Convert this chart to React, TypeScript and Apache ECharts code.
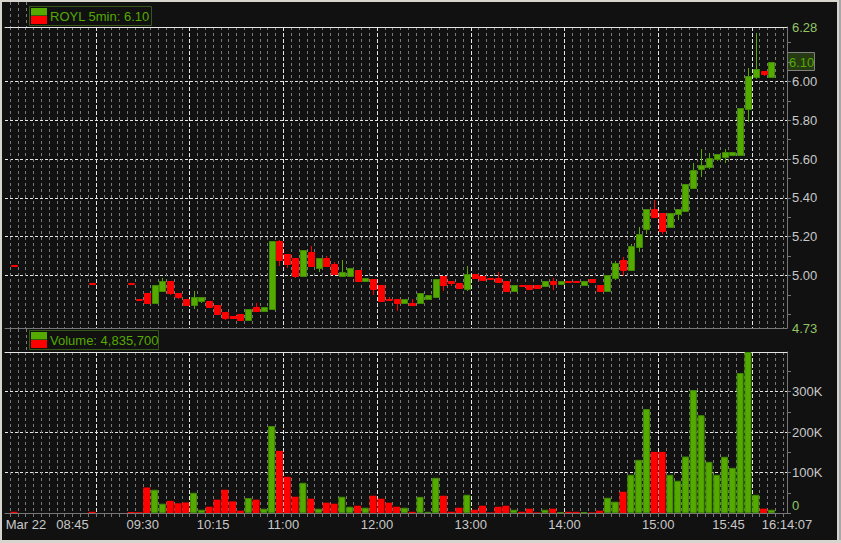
import React, { useEffect, useRef } from 'react';
import * as echarts from 'echarts';

// ---- data (5-minute bars, slot start time) ----
const times = [
  '08:05', '08:55', '09:20', '09:25', '09:30', '09:35', '09:40', '09:45', '09:50', '09:55',
  '10:00', '10:05', '10:10', '10:15', '10:20', '10:25', '10:30', '10:35', '10:40', '10:45',
  '10:50', '10:55', '11:00', '11:05', '11:10', '11:15', '11:20', '11:25', '11:30', '11:35',
  '11:40', '11:45', '11:50', '11:55', '12:00', '12:05', '12:10', '12:15', '12:20', '12:25',
  '12:30', '12:35', '12:40', '12:45', '12:50', '12:55', '13:00', '13:05', '13:10', '13:15',
  '13:20', '13:25', '13:30', '13:35', '13:40', '13:45', '13:50', '13:55', '14:00', '14:05',
  '14:10', '14:15', '14:20', '14:25', '14:30', '14:35', '14:40', '14:45', '14:50', '14:55',
  '15:00', '15:05', '15:10', '15:15', '15:20', '15:25', '15:30', '15:35', '15:40', '15:45',
  '15:50', '15:55', '16:00', '16:05', '16:10',
];
const opens = [
  5.055, 4.96, 4.96, 4.88, 4.91, 4.86, 4.92, 4.97, 4.91, 4.88,
  4.85, 4.87, 4.87, 4.85, 4.81, 4.79, 4.80, 4.77, 4.84, 4.82,
  4.83, 5.18, 5.11, 5.09, 5.00, 5.12, 5.04, 5.09, 5.06, 5.00,
  5.00, 5.03, 4.97, 4.98, 4.95, 4.88, 4.88, 4.86, 4.86, 4.86,
  4.88, 4.89, 5.00, 4.97, 4.96, 4.93, 5.01, 5.00, 4.99, 4.99,
  4.97, 4.92, 4.95, 4.95, 4.95, 4.945, 4.97, 4.955, 4.97, 4.97,
  4.95, 4.98, 4.95, 4.92, 4.985, 5.08, 5.03, 5.145, 5.24, 5.345,
  5.32, 5.25, 5.315, 5.335, 5.45, 5.55, 5.56, 5.60, 5.61, 5.62,
  5.62, 5.856, 6.02, 6.052, 6.02,
];
const closes = [
  5.05, 4.955, 4.955, 4.875, 4.86, 4.95, 4.97, 4.91, 4.89, 4.85,
  4.89, 4.89, 4.84, 4.80, 4.78, 4.78, 4.77, 4.83, 4.82, 4.84,
  5.18, 5.08, 5.06, 5.00, 5.13, 5.05, 5.09, 5.05, 5.01, 5.02,
  5.04, 4.97, 4.99, 4.93, 4.87, 4.875, 4.86, 4.88, 4.85, 4.91,
  4.90, 4.98, 4.95, 4.96, 4.935, 5.01, 4.99, 4.975, 4.98, 4.965,
  4.92, 4.95, 4.945, 4.93, 4.935, 4.97, 4.955, 4.97, 4.965, 4.965,
  4.97, 4.965, 4.92, 5.005, 5.065, 5.03, 5.15, 5.215, 5.345, 5.30,
  5.23, 5.32, 5.345, 5.47, 5.545, 5.567, 5.605, 5.627, 5.637, 5.637,
  5.863, 6.027, 6.063, 6.037, 6.10,
];
const lows = [
  5.05, 4.955, 4.955, 4.875, 4.86, 4.86, 4.92, 4.90, 4.88, 4.85,
  4.83, 4.86, 4.84, 4.80, 4.77, 4.775, 4.77, 4.77, 4.82, 4.82,
  4.83, 5.05, 5.04, 4.99, 5.00, 5.05, 5.02, 5.05, 5.01, 5.00,
  5.00, 4.965, 4.965, 4.90, 4.87, 4.875, 4.82, 4.855, 4.85, 4.86,
  4.88, 4.89, 4.92, 4.945, 4.935, 4.92, 4.99, 4.975, 4.98, 4.965,
  4.92, 4.92, 4.945, 4.93, 4.935, 4.945, 4.925, 4.95, 4.965, 4.965,
  4.95, 4.965, 4.92, 4.92, 4.975, 5.00, 5.03, 5.12, 5.215, 5.30,
  5.215, 5.245, 5.285, 5.335, 5.45, 5.508, 5.55, 5.59, 5.58, 5.615,
  5.62, 5.793, 6.01, 6.027, 6.02,
];
const highs = [
  5.055, 4.96, 4.96, 4.88, 4.91, 4.95, 4.99, 4.97, 4.91, 4.88,
  4.92, 4.89, 4.87, 4.85, 4.81, 4.79, 4.80, 4.83, 4.86, 4.84,
  5.18, 5.185, 5.11, 5.09, 5.13, 5.15, 5.09, 5.10, 5.07, 5.08,
  5.04, 5.03, 4.99, 4.98, 4.95, 4.89, 4.88, 4.88, 4.88, 4.91,
  4.90, 4.98, 5.00, 4.97, 4.96, 5.05, 5.01, 5.00, 4.99, 5.02,
  4.97, 4.95, 4.95, 4.95, 4.95, 4.97, 4.985, 4.97, 4.97, 4.97,
  4.97, 4.98, 4.95, 5.005, 5.075, 5.095, 5.16, 5.25, 5.345, 5.39,
  5.32, 5.32, 5.345, 5.47, 5.58, 5.653, 5.63, 5.627, 5.65, 5.637,
  5.863, 6.067, 6.249, 6.052, 6.10,
];
const volumes = [
  3000, 3000, 2500, 2000, 63000, 57500, 23000, 30000, 24000, 26000,
  50000, 8000, 15500, 33000, 57500, 28700, 5700, 37000, 33000, 10600,
  215000, 153600, 89500, 40200, 74700, 35300, 10600, 25400, 23000, 40200,
  15500, 18000, 13000, 42700, 35300, 25400, 15500, 13000, 3000, 40000,
  3000, 87000, 42700, 3000, 13000, 45000, 8000, 18000, 1500, 15500,
  18000, 8000, 3000, 10600, 1500, 8000, 10600, 2000, 3000, 3000,
  2000, 1500, 5700, 37700, 28000, 52500, 94500, 131400, 257000, 151000,
  151000, 94500, 79700, 139600, 304000, 241700, 126500, 94500, 139000, 111700,
  346000, 398000, 45000, 10600, 8000,
];

const symbol = 'ROYL';
const barPeriod = '5min';
const totalVolumeText = '4,835,700';
const dateLabel = 'Mar 22';
const lastStampLabel = '16:14:07';
const timeTickLabels = ['08:45', '09:30', '10:15', '11:00', '12:00', '13:00', '14:00', '15:00', '15:45'];
const hourLines = ['09:00', '10:00', '11:00', '12:00', '13:00', '14:00', '15:00', '16:00'];
const priceLabels = [4.73, 5.0, 5.2, 5.4, 5.6, 5.8, 6.0, 6.28];
const priceGridLevels = [5.0, 5.2, 5.4, 5.6, 5.8, 6.0];
const priceMinorTicks = [4.8, 4.9, 5.0, 5.1, 5.2, 5.3, 5.4, 5.5, 5.6, 5.7, 5.8, 5.9, 6.0, 6.1, 6.2];
const volumeLabels = [0, 100000, 200000, 300000];
const volumeGridLevels = [100000, 200000, 300000];
const volumeTicks = [0, 50000, 100000, 150000, 200000, 250000, 300000, 350000];
const PRICE_MIN = 4.73;
const PRICE_MAX = 6.28;
const VOL_MAX = 398000;

// ---- layout / style ----
const X_MIN = 481.75;
const X_MAX = 982.5;
const GREEN = '#55aa00';
const GREEN_EDGE = '#3f8a00';
const RED = '#ff0000';
const PALE_GREEN = '#93c465';
const LABEL = '#c8c8c8';
const GRAY_LINE = '#777777';
const MINOR = '#7a7a7a';
const MAJOR = '#e6e6e6';
const FONT = 'Liberation Sans';
const CANDLE_W = 6;

const toMin = (t: string) => {
  const [h, m] = t.split(':').map(Number);
  return h * 60 + m;
};
const fmtTime = (v: number) => {
  const h = Math.floor(v / 60);
  const m = Math.round(v - h * 60);
  return `${String(h).padStart(2, '0')}:${String(m).padStart(2, '0')}`;
};

const minorTimeTicks: number[] = [];
for (let t = 485; t < X_MAX; t += 5) minorTimeTicks.push(t);
const hourTicks = hourLines.map(toMin);
const labelTicks = [X_MIN, ...timeTickLabels.map(toMin), X_MAX];

export default function App() {
  const ref = useRef<HTMLDivElement>(null);

  useEffect(() => {
    document.body.style.margin = '0';
    if (!ref.current) return;
    const chart = echarts.init(ref.current, undefined, { renderer: 'svg' });

    const candleData = times.map((t, i) => [toMin(t) + 2.5, opens[i], closes[i], lows[i], highs[i]]);
    const volData = times.map((t, i) => {
      const up = closes[i] >= opens[i];
      return {
        value: [toMin(t) + 2.5, volumes[i]],
        itemStyle: { color: up ? GREEN : RED, borderColor: up ? GREEN_EDGE : RED, borderWidth: up ? 1 : 0 },
      };
    });
    const lastClose = closes[closes.length - 1];

    const renderCandle = (params: any, api: any) => {
      const x = api.value(0);
      const o = api.value(1);
      const c = api.value(2);
      const l = api.value(3);
      const h = api.value(4);
      const pO = api.coord([x, o]);
      const pC = api.coord([x, c]);
      const pL = api.coord([x, l]);
      const pH = api.coord([x, h]);
      const up = c >= o;
      const left = Math.round(pO[0] - CANDLE_W / 2) + 0.5;
      const cx = left + CANDLE_W / 2;
      const top = Math.round(Math.min(pO[1], pC[1])) + 0.5;
      const bot = Math.round(Math.max(pO[1], pC[1])) + 0.5;
      const col = up ? GREEN : RED;
      return {
        type: 'group',
        children: [
          {
            type: 'line',
            shape: { x1: cx, y1: Math.round(pH[1]), x2: cx, y2: Math.round(pL[1]) },
            style: { stroke: col, lineWidth: 1 },
          },
          {
            type: 'rect',
            shape: { x: left, y: top, width: CANDLE_W, height: Math.max(bot - top, 1) },
            style: { fill: col, stroke: up ? GREEN_EDGE : RED, lineWidth: 1 },
          },
        ],
      };
    };

    const baseX = {
      type: 'value',
      min: X_MIN,
      max: X_MAX,
      axisLabel: { show: false },
      axisTick: { show: false },
    };
    const minorSplit = { show: true, lineStyle: { color: MINOR, width: 1, type: [3, 3] } };
    const majorSplit = { show: true, lineStyle: { color: MAJOR, width: 1, type: [4, 2] } };

    const labelFont = { fontFamily: FONT, fontSize: 13 };

    const legend = (top: number, width: number, text: string) => ({
      type: 'group', left: 29, top, z: 100,
      children: [
        { type: 'rect', shape: { x: 0.5, y: 0.5, width, height: 19 }, style: { fill: '#111111', stroke: '#35581a', lineWidth: 1 } },
        { type: 'rect', shape: { x: 2, y: 2, width: 16, height: 7.5 }, style: { fill: GREEN } },
        { type: 'rect', shape: { x: 2, y: 10, width: 16, height: 8 }, style: { fill: RED } },
        {
          type: 'text', x: 21, y: 10,
          style: { text, fill: GREEN, font: `13px "${FONT}"`, textVerticalAlign: 'middle', verticalAlign: 'middle' },
        },
      ],
    });

    const option: any = {
      animation: false,
      backgroundColor: '#111111',
      grid: [
        { left: 5, top: 27, width: 782, height: 301, containLabel: false, outerBoundsMode: 'none' },
        { left: 5, top: 352, width: 782, height: 161, containLabel: false, outerBoundsMode: 'none' },
      ],
      xAxis: [
        {
          ...baseX, gridIndex: 0, position: 'bottom',
          axisLine: { show: true, onZero: false, lineStyle: { color: GRAY_LINE } },
          axisTick: { show: false, customValues: minorTimeTicks },
          splitLine: minorSplit,
        },
        {
          ...baseX, gridIndex: 0, position: 'top',
          axisLine: { show: true, onZero: false, lineStyle: { color: MAJOR } },
          axisTick: { show: false, customValues: hourTicks },
          splitLine: majorSplit,
        },
        {
          ...baseX, gridIndex: 1, position: 'bottom',
          axisLine: { show: true, onZero: false, lineStyle: { color: GRAY_LINE } },
          axisTick: { show: true, customValues: minorTimeTicks, length: 4, lineStyle: { color: GRAY_LINE } },
          axisLabel: {
            show: true,
            customValues: labelTicks,
            margin: 5,
            color: LABEL,
            ...labelFont,
            formatter: (v: number) => {
              if (Math.abs(v - X_MIN) < 0.01) return `{l|${dateLabel}}`;
              if (Math.abs(v - X_MAX) < 0.01) return lastStampLabel;
              return fmtTime(v);
            },
            rich: { l: { padding: [0, 0, 0, 42], color: LABEL, ...labelFont } },
          },
          splitLine: minorSplit,
        },
        {
          ...baseX, gridIndex: 1, position: 'top',
          axisLine: { show: true, onZero: false, lineStyle: { color: MAJOR } },
          axisTick: { show: false, customValues: hourTicks },
          splitLine: majorSplit,
        },
      ],
      yAxis: [
        {
          type: 'value', gridIndex: 0, position: 'right', min: PRICE_MIN, max: PRICE_MAX,
          axisLine: { show: true, lineStyle: { color: GRAY_LINE } },
          axisTick: { show: true, customValues: priceMinorTicks, length: 4, lineStyle: { color: GRAY_LINE } },
          axisLabel: {
            show: true, customValues: priceLabels, margin: 5, color: LABEL, ...labelFont,
            formatter: (v: number) => {
              const s = v.toFixed(2);
              return Math.abs(v - PRICE_MIN) < 1e-6 || Math.abs(v - PRICE_MAX) < 1e-6 ? `{g|${s}}` : s;
            },
            rich: { g: { color: PALE_GREEN, ...labelFont } },
          },
          splitLine: { show: false },
        },
        {
          type: 'value', gridIndex: 0, position: 'right', min: PRICE_MIN, max: PRICE_MAX,
          axisLine: { show: false },
          axisTick: { show: false, customValues: priceGridLevels },
          axisLabel: { show: false },
          splitLine: { show: true, lineStyle: { color: MAJOR, width: 1, type: [3, 2] } },
        },
        {
          type: 'value', gridIndex: 1, position: 'right', min: 0, max: VOL_MAX,
          axisLine: { show: true, lineStyle: { color: GRAY_LINE } },
          axisTick: { show: true, customValues: volumeTicks, length: 4, lineStyle: { color: GRAY_LINE } },
          axisLabel: {
            show: true, customValues: volumeLabels, margin: 5, color: LABEL, ...labelFont,
            formatter: (v: number) => (v === 0 ? '{z|0}' : `${Math.round(v / 1000)}K`),
            rich: { z: { color: PALE_GREEN, padding: [0, 0, 15, 0], ...labelFont } },
          },
          splitLine: { show: false },
        },
        {
          type: 'value', gridIndex: 1, position: 'right', min: 0, max: VOL_MAX,
          axisLine: { show: false },
          axisTick: { show: false, customValues: volumeGridLevels },
          axisLabel: { show: false },
          splitLine: { show: true, lineStyle: { color: MAJOR, width: 1, type: [3, 2] } },
        },
      ],
      series: [
        {
          type: 'custom',
          xAxisIndex: 0,
          yAxisIndex: 0,
          data: candleData,
          encode: { x: 0, y: [1, 2, 3, 4] },
          renderItem: renderCandle,
          clip: true,
        },
        {
          type: 'bar',
          xAxisIndex: 2,
          yAxisIndex: 2,
          data: volData,
          barWidth: 7,
        },
      ],
      graphic: [
        legend(6, 122, `${symbol} ${barPeriod}: ${lastClose.toFixed(2)}`),
        legend(330, 129, `Volume: ${totalVolumeText}`),
        // window frame
        { type: 'rect', z: 100, shape: { x: 0, y: 0, width: 841, height: 2 }, style: { fill: '#d8d5cf' } },
        { type: 'rect', z: 100, shape: { x: 0, y: 0, width: 2, height: 543 }, style: { fill: '#d8d5cf' } },
        { type: 'rect', z: 100, shape: { x: 837, y: 0, width: 4, height: 543 }, style: { fill: '#d8d5cf' } },
        { type: 'rect', z: 100, shape: { x: 839, y: 0, width: 2, height: 543 }, style: { fill: '#a8a8a8' } },
        { type: 'rect', z: 100, shape: { x: 0, y: 540, width: 841, height: 3 }, style: { fill: '#d8d5cf' } },
      ],
    };

    chart.setOption(option);

    const extra: any[] = [];
    // grid lines continue into the panel headers left of the legend boxes
    minorTimeTicks.slice(0, 3).forEach((t) => {
      const px = Math.round(chart.convertToPixel({ xAxisIndex: 0 }, t) as number) + 0.5;
      [[2, 27], [329, 352]].forEach(([y1, y2]) => {
        extra.push({
          type: 'line', z: 50,
          shape: { x1: px, y1, x2: px, y2 },
          style: { stroke: MINOR, lineWidth: 1, lineDash: [3, 3] },
        });
      });
    });
    // last-price marker on the price axis, placed through the axis scale
    const py = chart.convertToPixel({ yAxisIndex: 0 }, lastClose) as number;
    const axisX = chart.convertToPixel({ xAxisIndex: 0 }, X_MAX) as number;
    extra.push({
      type: 'group', z: 60, x: Math.round(axisX), y: Math.round(py),
      children: [
        { type: 'rect', shape: { x: 0.5, y: -9.5, width: 27, height: 18 }, style: { fill: '#263a14', stroke: '#808080', lineWidth: 1 } },
        {
          type: 'text', x: 2, y: 0,
          style: { text: lastClose.toFixed(2), fill: GREEN, font: `13px "${FONT}"`, textVerticalAlign: 'middle', verticalAlign: 'middle' },
        },
      ],
    });
    chart.setOption({ graphic: [...option.graphic, ...extra] });

    return () => chart.dispose();
  }, []);

  return <div ref={ref} style={{ width: 841, height: 543 }} />;
}
